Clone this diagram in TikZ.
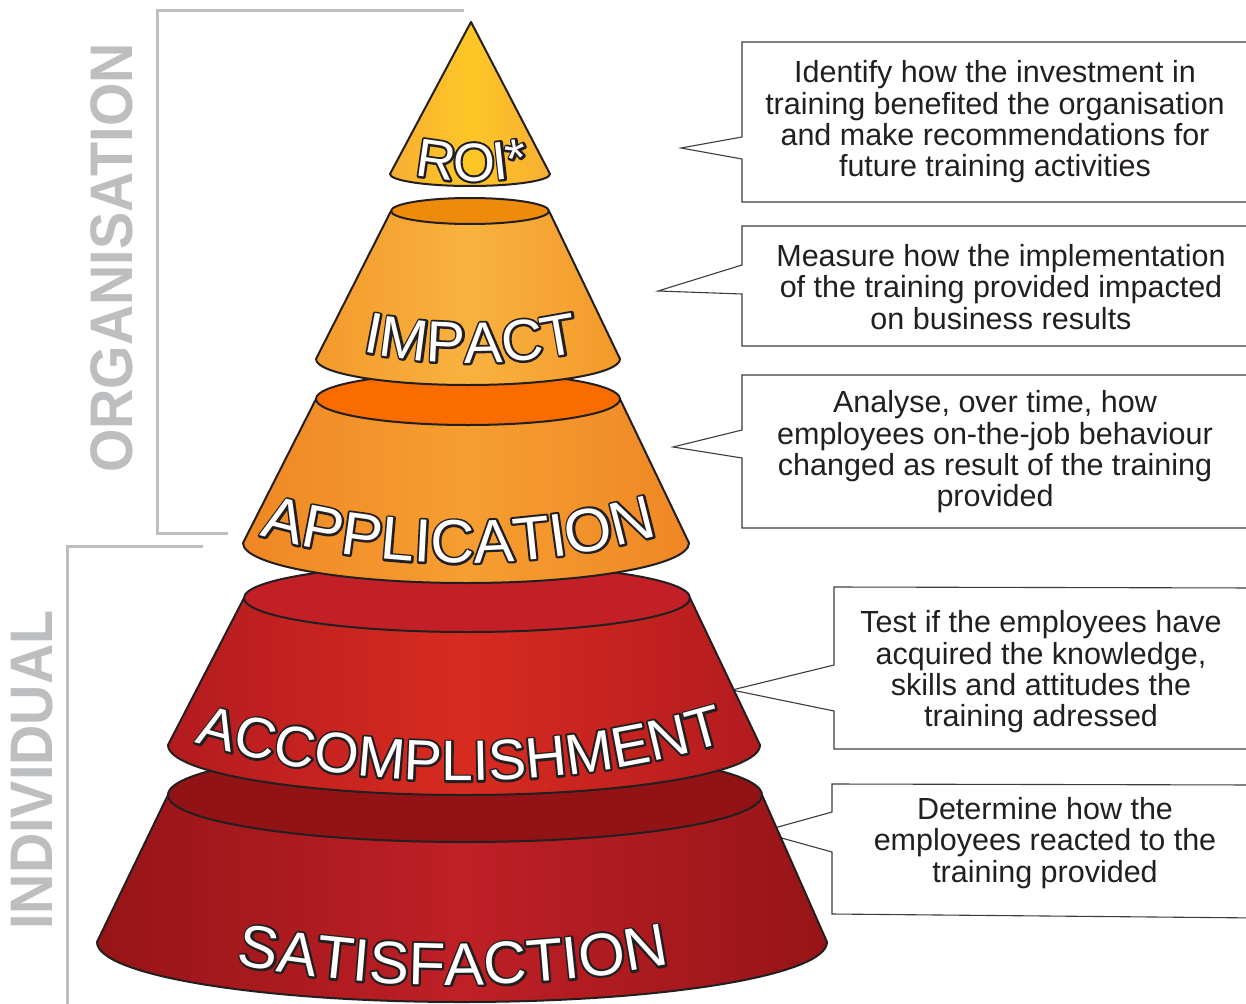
\documentclass[tikz,border=0pt]{standalone}
\usepackage{fontspec}
\setmainfont{Liberation Sans}
\usepackage{graphicx}
\usetikzlibrary{decorations.text}
\definecolor{outc}{HTML}{231F20}
\definecolor{txt}{HTML}{231F20}
\definecolor{brk}{HTML}{BCBEC0}
\definecolor{lnc}{HTML}{3C3C3C}
\definecolor{roiL}{HTML}{F8AE33}
\definecolor{roiM}{HTML}{FEC726}
\definecolor{impT}{HTML}{EE8A0C}
\definecolor{impL}{HTML}{F39A2B}
\definecolor{impM}{HTML}{F9B23E}
\definecolor{appT}{HTML}{F86C00}
\definecolor{appL}{HTML}{EF8724}
\definecolor{appM}{HTML}{F69E31}
\definecolor{accT}{HTML}{C21F26}
\definecolor{accL}{HTML}{B31B1F}
\definecolor{accM}{HTML}{D82B20}
\definecolor{satT}{HTML}{911316}
\definecolor{satL}{HTML}{961417}
\definecolor{satM}{HTML}{BF2026}
% thick stroked glyphs (text render mode 2) under plain white glyphs
\newcommand\glyphstroke{\special{pdf:literal direct 2 Tr 4.2 w 1 j}}
\newcommand\glyphplain{\special{pdf:literal direct 0 Tr}}
% #1 cx, #2 cy, #3 radius, #4 half angle, #5 font size, #6 text
\newcommand\arclabel[6]{%
  \path[decorate, decoration={text along path, text align=center,
      text={|\color{outc}\glyphstroke\fontsize{#5}{#5}\selectfont|#6}}]
      ({#1+#3*cos(270-#4)},{#2+#3*sin(270-#4)}) arc[start angle=270-#4, end angle=270+#4, radius=#3];
  \path[decorate, decoration={text along path, text align=center,
      text={|\color{white}\glyphplain\fontsize{#5}{#5}\selectfont|#6}}]
      ({#1+#3*cos(270-#4)},{#2+#3*sin(270-#4)}) arc[start angle=270-#4, end angle=270+#4, radius=#3];
}
\tikzset{
  outl/.style={draw=outc, line width=2pt, line join=round},
  layer/.style n args={2}{outl, left color=#1, right color=#1, middle color=#2},
  callout/.style={draw=lnc, line width=1.1pt, line join=miter},
  ctext/.style={align=center, font=\fontsize{30.5}{31.3}\selectfont, text=txt, inner sep=0pt},
  sidelbl/.style={rotate=90, text=brk, font=\fontsize{60}{60}\selectfont\bfseries, inner sep=0pt},
  bracket/.style={draw=brk, line width=3pt}
}
\begin{document}
\begin{tikzpicture}[x=1pt,y=1pt]
\useasboundingbox (0,0) rectangle (1246,-1003);
\fill[white] (0,0) rectangle (1246,-1003);
\clip (0,0) rectangle (1246,-1003);

% brackets and side labels
\draw[bracket] (464,-11) -- (157,-11) -- (157,-533) -- (228,-533);
\draw[bracket] (203,-546) -- (67,-546) -- (67,-1010);
\node[sidelbl] (org) at (112,-258) {\scalebox{0.93}[1]{ORGANISATION}};
\node[sidelbl] (ind) at (32,-770) {\scalebox{0.93}[1]{INDIVIDUAL}};

% callouts
\coordinate (t1) at (681,-148);
\coordinate (t2) at (658,-291);
\coordinate (t3) at (673,-447);
\coordinate (t4) at (732,-690);
\coordinate (t5) at (760,-832);
\draw[callout] (1260,-42) -- (742,-42) -- (742,-137) -- (t1) -- (742,-159) -- (742,-202) -- (1260,-202);
\draw[callout] (1260,-226) -- (742,-226) -- (742,-265) -- (t2) -- (742,-294) -- (742,-346) -- (1260,-346);
\draw[callout] (1260,-375) -- (742,-375) -- (742,-430) -- (t3) -- (742,-458) -- (742,-528) -- (1260,-528);
\draw[callout] (1260,-588) -- (834,-587) -- (834,-665) -- (t4) -- (834,-711) -- (834,-749) -- (1260,-749);
\draw[callout] (1260,-785) -- (832,-784) -- (832,-812) -- (t5) -- (832,-852) -- (832,-914) -- (1260,-918);

\node[ctext] (c1) at (995,-122) {Identify how the investment in\\training benefited the organisation\\and make recommendations for\\future training activities};
\node[ctext] (c2) at (1001,-287) {Measure how the implementation\\of the training provided impacted\\on business results};
\node[ctext] (c3) at (995,-452) {Analyse, over time, how\\employees on-the-job behaviour\\changed as result of the training\\provided};
\node[ctext] (c4) at (1041,-672) {Test if the employees have\\acquired the knowledge,\\skills and attitudes the\\training adressed};
\node[ctext] (c5) at (1045,-843) {Determine how the\\employees reacted to the\\training provided};

% SATISFACTION
\draw[layer={satL}{satM}]
  (168,-795) -- (97,-942) arc[start angle=180, end angle=360, x radius=365, y radius=60] -- (762,-795) -- cycle;
\draw[outl, fill=satT] (465,-795) ellipse[x radius=297, y radius=47];
\arclabel{453}{165}{1150}{18}{60}{SATISFACTION}

% ACCOMPLISHMENT
\draw[layer={accL}{accM}]
  (244,-598) -- (168,-745) arc[start angle=180, end angle=360, x radius=296, y radius=50] -- (690,-598) -- cycle;
\draw[outl, fill=accT] (467,-598) ellipse[x radius=223, y radius=34];
\arclabel{460.5}{154}{935}{25}{57}{ACCOMPLISHMENT}

% APPLICATION
\draw[layer={appL}{appM}]
  (316,-399) -- (243,-543) arc[start angle=180, end angle=360, x radius=223, y radius=40] -- (620,-399) -- cycle;
\draw[outl, fill=appT] (468,-399) ellipse[x radius=152, y radius=26];
\arclabel{459}{169}{732}{24}{61}{APPLICATION}

% IMPACT
\draw[layer={impL}{impM}]
  (391,-211) -- (316,-359) arc[start angle=180, end angle=360, x radius=152, y radius=26] -- (549,-211) -- cycle;
\draw[outl, fill=impT] (470,-211) ellipse[x radius=79, y radius=13];
\arclabel{471}{168}{531}{20}{58}{IMPACT}

% ROI
\draw[layer={roiL}{roiM}]
  (471,-22) -- (390,-174) arc[start angle=180, end angle=360, x radius=80, y radius=12] -- cycle;
\arclabel{472.5}{92}{273}{20}{54}{ROI*}
\end{tikzpicture}
\end{document}
